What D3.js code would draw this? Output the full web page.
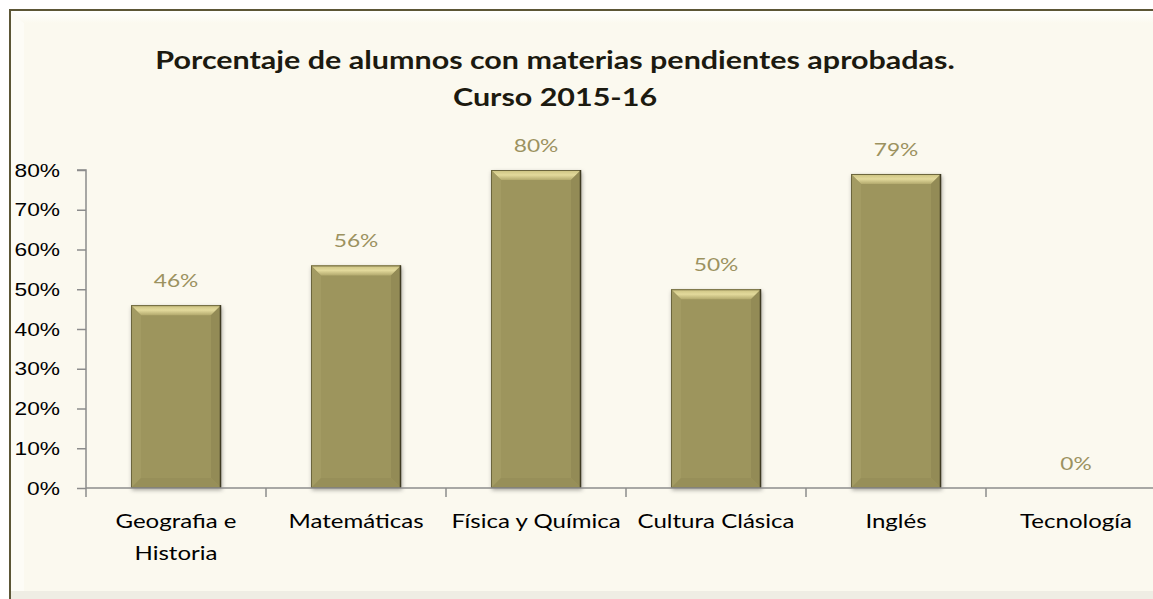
<!DOCTYPE html>
<meta charset="utf-8">
<script src="https://cdn.jsdelivr.net/npm/d3@7"></script>
<style>
  html, body { margin: 0; background: #fff; overflow: hidden; }
  svg { display: block; font-family: Lato, "Open Sans", sans-serif; }
</style>
<div id="my_dataviz"></div>
<script>
// datos del gráfico
var categories = ["Geografia e\nHistoria", "Matemáticas", "Física y Química", "Cultura Clásica", "Inglés", "Tecnología"];
var values = [46, 56, 80, 50, 79, 0];
var yTicks = [0, 10, 20, 30, 40, 50, 60, 70, 80];
var titleLines = ["Porcentaje de alumnos con materias pendientes aprobadas.", "Curso 2015-16"];

var W = 1153, H = 599;
var margin = {top: 170, left: 86, bottom: 111};
var plotW = 1080, plotH = H - margin.top - margin.bottom;
var SX = 1.3; // la imagen original está estirada en horizontal

var svg = d3.select("#my_dataviz").append("svg")
  .attr("width", W).attr("height", H);

var defs = svg.append("defs");
var topBevel = defs.append("linearGradient").attr("id", "frameTop").attr("x1", 0).attr("y1", 0).attr("x2", 0).attr("y2", 1);
topBevel.append("stop").attr("offset", 0).attr("stop-color", "#ffffff");
topBevel.append("stop").attr("offset", 1).attr("stop-color", "#fbf9ef");

var barTop = defs.append("linearGradient").attr("id", "barTop").attr("x1", 0).attr("y1", 0).attr("x2", 0).attr("y2", 1);
barTop.append("stop").attr("offset", 0).attr("stop-color", "#c9c07f");
barTop.append("stop").attr("offset", 0.5).attr("stop-color", "#e3da9c");
barTop.append("stop").attr("offset", 1).attr("stop-color", "#b3aa6e");

var shadow = defs.append("filter").attr("id", "shadow").attr("x", "-20%").attr("y", "-20%").attr("width", "140%").attr("height", "140%");
shadow.append("feDropShadow").attr("dx", 1).attr("dy", 2).attr("stdDeviation", 2).attr("flood-color", "#000").attr("flood-opacity", 0.35);

// marco
svg.append("rect").attr("x", 10).attr("y", 10).attr("width", W - 10).attr("height", H - 10).attr("fill", "#fbf9ef");
svg.append("path").attr("d", "M11,11 H" + W + " V23 H24 Z").attr("fill", "url(#frameTop)");
svg.append("path").attr("d", "M11,11 L24,23 V" + (H - 8) + " H11 Z").attr("fill", "#fdfcf6");
svg.append("rect").attr("x", 11).attr("y", H - 8).attr("width", W).attr("height", 8).attr("fill", "#efede4");
svg.append("path").attr("d", "M10," + H + " V10 H" + W)
  .attr("fill", "none").attr("stroke", "#5c5636").attr("stroke-width", 2);

// texto estirado horizontalmente
function stretched(parent, cx, cy, txt, sx) {
  return parent.append("text")
    .attr("transform", "translate(" + cx + "," + cy + ") scale(" + sx + ",1)")
    .text(txt);
}

// título
titleLines.forEach(function(line, i) {
  stretched(svg, 555, 69 + i * 37, line, 1.27)
    .attr("text-anchor", "middle")
    .style("font-size", "24px").style("font-weight", "bold").attr("fill", "#1c1a10");
});

var g = svg.append("g").attr("transform", "translate(" + margin.left + "," + margin.top + ")");

var x = d3.scaleBand().domain(categories).range([0, plotW]).paddingInner(0.5).paddingOuter(0.25);
var y = d3.scaleLinear().domain([0, 80]).range([plotH, 0]);

// eje Y
var yAxis = g.append("g")
  .call(d3.axisLeft(y).tickValues(yTicks).tickSize(9).tickPadding(8).tickFormat(function(d) { return d + "%"; }));
yAxis.selectAll("path, line").attr("stroke", "#8c8c8c").attr("stroke-width", 1.5);
yAxis.select(".domain").attr("d", "M0," + plotH + "V0H-9");
yAxis.selectAll(".tick text").each(function() {
  d3.select(this).attr("x", null).attr("dy", null)
    .attr("transform", "translate(-26,6) scale(" + SX + ",1)")
    .style("font-size", "17.5px").attr("fill", "#000");
});

// barras
var bars = g.selectAll(".bar").data(values).join("g").attr("class", "bar");
bars.each(function(d, i) {
  if (d <= 0) return;
  var sel = d3.select(this);
  var bx = x(categories[i]), bw = x.bandwidth(), by = y(d), bh = plotH - y(d);
  sel.append("rect").attr("x", bx).attr("y", by).attr("width", bw).attr("height", bh)
    .attr("fill", "#9d955d").attr("filter", "url(#shadow)");
  var b = 10;
  sel.append("path").attr("d", "M" + bx + "," + by + "h" + bw + "l-" + b + "," + b + "h-" + (bw - 2 * b) + "Z").attr("fill", "url(#barTop)");
  sel.append("path").attr("d", "M" + bx + "," + by + "l" + b + "," + b + "v" + (bh - 2 * b) + "l-" + b + "," + b + "Z").attr("fill", "#a39b63");
  sel.append("path").attr("d", "M" + (bx + bw) + "," + by + "l-" + b + "," + b + "v" + (bh - 2 * b) + "l" + b + "," + b + "Z").attr("fill", "#938b56");
  sel.append("path").attr("d", "M" + bx + "," + (by + bh) + "l" + b + ",-" + b + "h" + (bw - 2 * b) + "l" + b + "," + b + "Z").attr("fill", "#978f59");
  sel.append("rect").attr("x", bx + 0.5).attr("y", by + 0.5).attr("width", bw - 1).attr("height", bh - 1)
    .attr("fill", "none").attr("stroke", "#6b653d").attr("stroke-width", 1);
  sel.append("line").attr("x1", bx + bw - 0.5).attr("x2", bx + bw - 0.5).attr("y1", by).attr("y2", by + bh)
    .attr("stroke", "#3e3a22").attr("stroke-width", 1.5);
});

// etiquetas de valor
values.forEach(function(d, i) {
  stretched(g, x(categories[i]) + x.bandwidth() / 2, y(d) - 18, d + "%", SX)
    .attr("text-anchor", "middle")
    .style("font-size", "17.5px").attr("fill", "#9c925f");
});

// eje X
var xAxis = g.append("g").attr("transform", "translate(0," + plotH + ")");
xAxis.append("line").attr("x1", 0).attr("x2", plotW).attr("stroke", "#8c8c8c").attr("stroke-width", 1.5);
xAxis.selectAll(".tk").data(d3.range(categories.length + 1)).join("line").attr("class", "tk")
  .attr("x1", function(i) { return i * plotW / categories.length; })
  .attr("x2", function(i) { return i * plotW / categories.length; })
  .attr("y1", 0).attr("y2", 9).attr("stroke", "#8c8c8c").attr("stroke-width", 1.5);
categories.forEach(function(d) {
  d.split("\n").forEach(function(line, k) {
    stretched(xAxis, x(d) + x.bandwidth() / 2, 40 + k * 32, line, SX)
      .attr("text-anchor", "middle")
      .style("font-size", "18.5px").attr("fill", "#000");
  });
});
</script>
